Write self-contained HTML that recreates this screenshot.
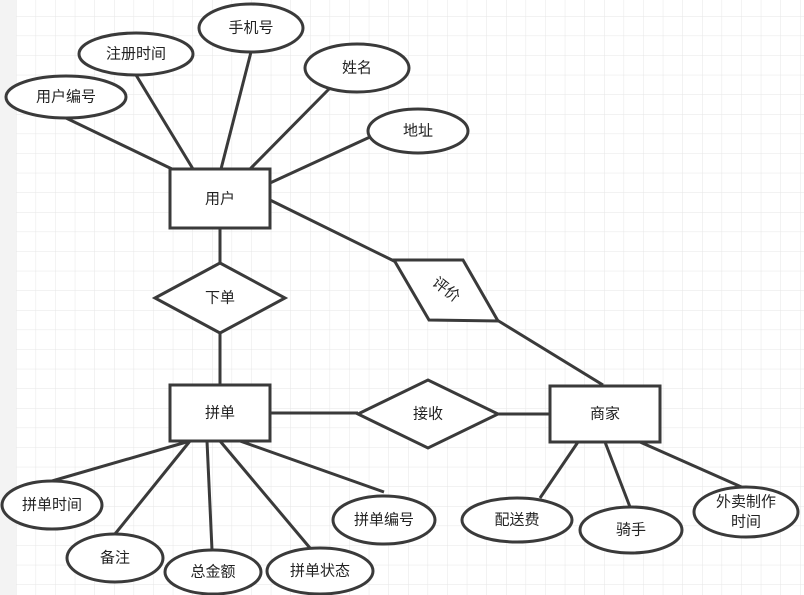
<!DOCTYPE html>
<html><head><meta charset="utf-8"><style>
html,body{margin:0;padding:0;background:#fff}
svg{display:block}
text{font-family:"Liberation Sans","Noto Sans CJK SC",sans-serif;font-size:15px;fill:#222;text-anchor:middle;dominant-baseline:central}
</style></head><body>
<svg width="804" height="595" viewBox="0 0 804 595" xmlns="http://www.w3.org/2000/svg">
<defs>
<pattern id="g" x="16" y="16" width="19.6" height="19.6" patternUnits="userSpaceOnUse">
<path d="M0 0H19.6M0 0V19.6" stroke="#e6e6e6" stroke-width="1" fill="none"/>
</pattern>
</defs>
<rect width="804" height="595" fill="#fff"/>
<rect x="16" y="0" width="788" height="595" fill="url(#g)"/>
<rect x="0" y="0" width="16" height="595" fill="#f3f3f3"/>
<g stroke="#3a3a3a" stroke-width="3" fill="none">
<line x1="66" y1="118" x2="172" y2="169"/>
<line x1="136" y1="75" x2="193" y2="169"/>
<line x1="251" y1="52" x2="221" y2="169"/>
<line x1="330" y1="88" x2="250" y2="169"/>
<line x1="370" y1="137" x2="270" y2="183"/>
<line x1="220" y1="228" x2="220" y2="263"/>
<line x1="220" y1="333" x2="220" y2="385"/>
<line x1="270" y1="200" x2="396" y2="262"/>
<line x1="497" y1="320" x2="603" y2="385"/>
<line x1="270" y1="413" x2="358" y2="413"/>
<line x1="498" y1="414" x2="550" y2="414"/>
<line x1="190" y1="441" x2="52" y2="481"/>
<line x1="190" y1="441" x2="115" y2="534"/>
<line x1="207" y1="441" x2="212" y2="550"/>
<line x1="220" y1="441" x2="310" y2="548"/>
<line x1="240" y1="441" x2="384" y2="492"/>
<line x1="578" y1="442" x2="540" y2="498"/>
<line x1="605" y1="442" x2="630" y2="507"/>
<line x1="640" y1="442" x2="746" y2="489"/>
</g>
<g stroke="#3a3a3a" stroke-width="3" fill="#fff">
<ellipse cx="66" cy="97" rx="60" ry="21"/>
<ellipse cx="136" cy="54" rx="57" ry="21"/>
<ellipse cx="251" cy="28" rx="52" ry="24"/>
<ellipse cx="357" cy="68" rx="52" ry="24"/>
<ellipse cx="418" cy="131" rx="50" ry="22"/>
<ellipse cx="52" cy="505" rx="50" ry="24"/>
<ellipse cx="115" cy="558" rx="48" ry="24"/>
<ellipse cx="213" cy="572" rx="48" ry="22"/>
<ellipse cx="320" cy="571" rx="53" ry="23"/>
<ellipse cx="384" cy="520" rx="51" ry="24"/>
<ellipse cx="517" cy="520" rx="55" ry="22"/>
<ellipse cx="631" cy="530" rx="51" ry="23"/>
<ellipse cx="746" cy="512" rx="52" ry="25"/>
<rect x="170" y="169" width="100" height="59"/>
<rect x="170" y="385" width="100" height="56"/>
<rect x="550" y="386" width="110" height="56"/>
<polygon points="155,298 220,263 285,298 220,333"/>
<polygon points="358,414 428,380 498,414 428,448"/>
<polygon points="394,260 463,260 498,321 429,320"/>
</g>
<text x="66" y="97">用户编号</text>
<text x="136" y="54">注册时间</text>
<text x="251" y="28">手机号</text>
<text x="357" y="68">姓名</text>
<text x="418" y="131">地址</text>
<text x="52" y="505">拼单时间</text>
<text x="115" y="558">备注</text>
<text x="213" y="572">总金额</text>
<text x="320" y="571">拼单状态</text>
<text x="384" y="520">拼单编号</text>
<text x="517" y="520">配送费</text>
<text x="631" y="530">骑手</text>
<text x="746" y="502">外卖制作</text>
<text x="746" y="522">时间</text>
<text x="220" y="199">用户</text>
<text x="220" y="413">拼单</text>
<text x="605" y="414">商家</text>
<text x="220" y="298">下单</text>
<text x="428" y="414">接收</text>
<text x="446" y="290" transform="rotate(38 446 290)">评价</text>
</svg>
</body></html>
